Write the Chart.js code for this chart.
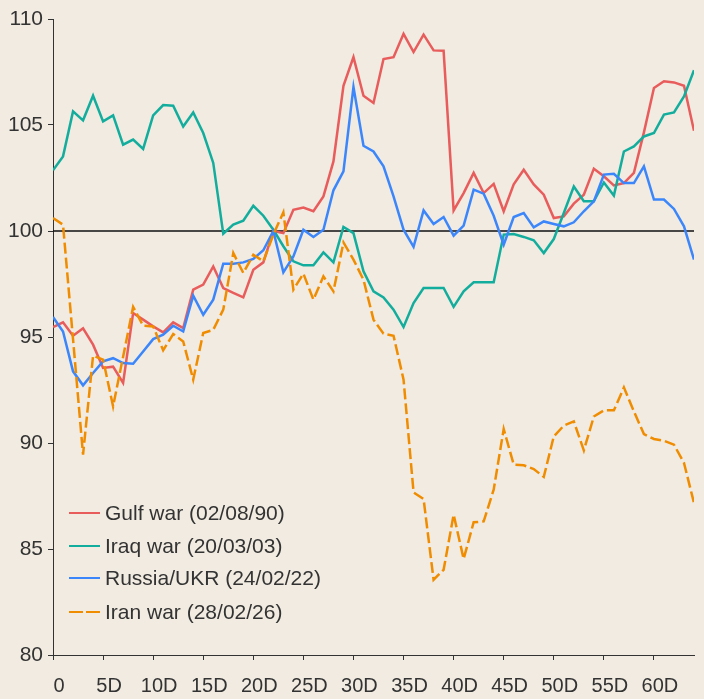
<!DOCTYPE html>
<html>
<head>
<meta charset="utf-8">
<script src="https://cdn.jsdelivr.net/npm/chart.js@4.4.1/dist/chart.umd.min.js"></script>
<style>
  html, body { margin: 0; padding: 0; background: #f1ebe1; }
  #wrap { position: relative; width: 704px; height: 699px; }
</style>
</head>
<body>
<div id="wrap"><canvas id="c" width="704" height="699"></canvas></div>
<script>
const days = [0,1,2,3,4,5,6,7,8,9,10,11,12,13,14,15,16,17,18,19,20,21,22,23,24,25,26,27,28,29,30,31,32,33,34,35,36,37,38,39,40,41,42,43,44,45,46,47,48,49,50,51,52,53,54,55,56,57,58,59,60,61,62,63,64];
const seriesNames = ['Gulf war (02/08/90)', 'Iraq war (20/03/03)', 'Russia/UKR (24/02/22)', 'Iran war (28/02/26)'];
const gulfWar = [95.47,95.69,95.06,95.41,94.64,93.54,93.6,92.83,96.13,95.82,95.5,95.22,95.69,95.42,97.23,97.47,98.33,97.31,97.08,96.87,98.17,98.52,100.0,99.9,101.0,101.11,100.93,101.63,103.28,106.85,108.2,106.38,106.04,108.11,108.2,109.3,108.44,109.26,108.52,108.5,100.97,101.79,102.74,101.79,102.22,100.93,102.2,102.89,102.2,101.71,100.61,100.69,101.29,101.71,102.94,102.58,102.15,102.26,102.74,104.65,106.75,107.06,107.01,106.85,104.73];
const iraqWar = [102.86,103.52,105.64,105.22,106.38,105.17,105.45,104.07,104.31,103.87,105.45,105.94,105.91,104.93,105.59,104.62,103.21,99.87,100.3,100.49,101.19,100.72,100.06,99.28,98.57,98.38,98.38,98.99,98.52,100.19,99.9,98.1,97.15,96.87,96.29,95.47,96.6,97.31,97.31,97.31,96.42,97.15,97.58,97.58,97.58,99.83,99.86,99.72,99.56,98.96,99.62,100.85,102.1,101.4,101.4,102.29,101.67,103.75,103.99,104.46,104.62,105.49,105.59,106.35,107.58];
const russiaUkr = [95.94,95.26,93.38,92.72,93.3,93.85,94.0,93.77,93.74,94.32,94.9,95.11,95.53,95.26,96.95,96.05,96.76,98.46,98.46,98.52,98.68,99.09,100.0,98.05,98.8,100.06,99.72,100.06,101.92,102.81,106.79,104.02,103.75,103.05,101.63,100.06,99.25,100.97,100.33,100.66,99.78,100.25,101.95,101.76,100.72,99.35,100.66,100.85,100.17,100.45,100.33,100.22,100.41,100.93,101.4,102.66,102.7,102.26,102.26,103.05,101.48,101.48,101.04,100.22,98.65];
const iranWar = [100.61,100.3,94.9,89.45,94.12,93.93,91.73,94.07,96.42,95.53,95.5,94.37,95.14,94.79,92.99,95.19,95.34,96.29,98.96,98.02,98.88,98.57,99.83,100.88,97.23,97.99,96.76,97.86,97.15,99.46,98.65,97.7,95.82,95.16,95.06,92.99,87.67,87.36,83.55,84.02,86.62,84.53,86.26,86.3,87.8,90.66,88.98,88.95,88.77,88.4,90.31,90.82,91.02,89.65,91.25,91.54,91.54,92.62,91.49,90.42,90.19,90.11,89.92,89.06,87.17];
const yTicks = [80,85,90,95,100,105,110];
const xTickLabel = v => (v === 0 ? '0' : v + 'D');
const baseline = 100;

const colors = ['#e85c5c', '#13ad9d', '#3c86fb', '#f08c00'];
const dashes = [[], [], [], [11, 4]];
const TXT = '#333333';
const FONT = '"Liberation Sans", Arial, sans-serif';

const baselinePlugin = {
  id: 'baseline',
  beforeDatasetsDraw(chart) {
    const {ctx, chartArea, scales} = chart;
    const y = scales.y.getPixelForValue(baseline);
    ctx.save();
    ctx.strokeStyle = '#111111';
    ctx.lineWidth = 1.5;
    ctx.beginPath();
    ctx.moveTo(chartArea.left, y);
    ctx.lineTo(chartArea.right, y);
    ctx.stroke();
    ctx.restore();
  }
};

const legendPlugin = {
  id: 'insideLegend',
  afterDraw(chart) {
    const ctx = chart.ctx;
    const x0 = 69, x1 = 100, tx = 105;
    const ys = [513, 546, 578, 612];
    ctx.save();
    ctx.font = '21px ' + FONT;
    ctx.textBaseline = 'middle';
    ctx.fillStyle = TXT;
    chart.data.datasets.forEach((ds, i) => {
      ctx.strokeStyle = ds.borderColor;
      ctx.lineWidth = 2;
      ctx.setLineDash(i === 3 ? [14, 3] : []);
      ctx.beginPath();
      ctx.moveTo(x0, ys[i]);
      ctx.lineTo(x1, ys[i]);
      ctx.stroke();
      ctx.setLineDash([]);
      ctx.fillText(ds.label, tx, ys[i] + 1);
    });
    ctx.restore();
  }
};

const allSeries = [gulfWar, iraqWar, russiaUkr, iranWar];

new Chart(document.getElementById('c'), {
  type: 'line',
  data: {
    labels: days,
    datasets: allSeries.map((d, i) => ({
      label: seriesNames[i],
      data: d,
      borderColor: colors[i],
      backgroundColor: colors[i],
      borderWidth: 2.5,
      borderDash: dashes[i],
      pointRadius: 0,
      tension: 0,
      fill: false,
      order: 4 - i
    }))
  },
  options: {
    responsive: false,
    animation: false,
    devicePixelRatio: 1,
    layout: { padding: { top: 19, right: 10, left: 0, bottom: 0 } },
    plugins: { legend: { display: false }, tooltip: { enabled: false } },
    scales: {
      x: {
        type: 'linear',
        min: 0, max: 64,
        afterFit(s) { s.height = 44; },
        border: { display: true, color: TXT, width: 1 },
        grid: { drawOnChartArea: false, drawTicks: true, tickLength: 5, color: TXT },
        ticks: {
          stepSize: 5, includeBounds: false, autoSkip: false, maxRotation: 0,
          padding: 14, labelOffset: 6,
          color: TXT, font: { family: FONT, size: 20 },
          callback: xTickLabel
        }
      },
      y: {
        min: 80, max: 110,
        afterFit(s) { s.width = 53; },
        afterBuildTicks(s) { s.ticks = yTicks.map(v => ({ value: v })); },
        border: { display: true, color: TXT, width: 1 },
        grid: { drawOnChartArea: false, drawTicks: true, tickLength: 5, color: TXT },
        ticks: {
          padding: 5,
          color: TXT, font: { family: FONT, size: 21 }
        }
      }
    }
  },
  plugins: [baselinePlugin, legendPlugin]
});
</script>
</body>
</html>
